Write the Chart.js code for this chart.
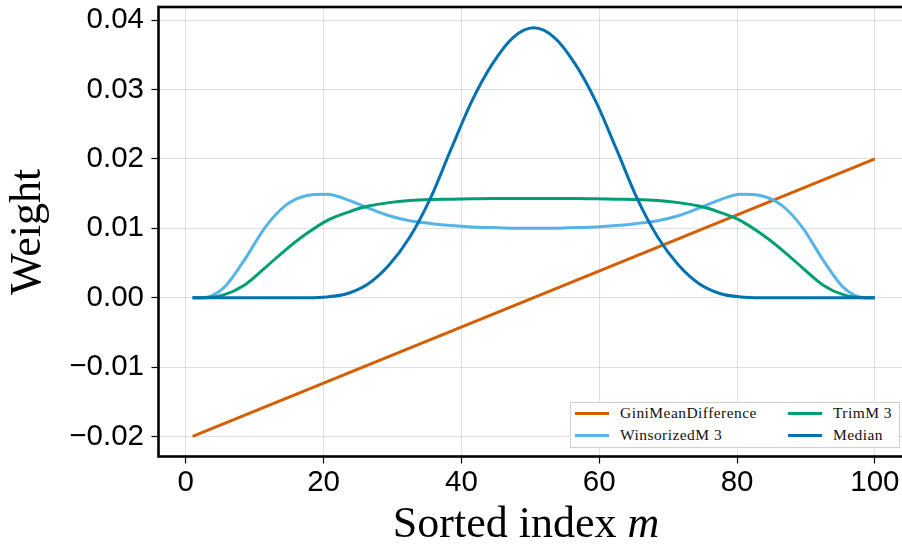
<!DOCTYPE html>
<html>
<head>
<meta charset="utf-8">
<script src="https://cdn.jsdelivr.net/npm/chart.js@4.4.1/dist/chart.umd.min.js"></script>
<style>
html, body { margin: 0; padding: 0; background: #fff; }
#wrap { position: relative; width: 902px; height: 545px; overflow: hidden; }
#chart { position: absolute; left: 0; top: 0; }
#legend {
    position: absolute; left: 570px; top: 402px; width: 330px; height: 46px;
    border: 1.5px solid #cfcfcf; background: #fff; box-sizing: border-box;
    font-family: 'Liberation Serif', serif; font-size: 15.5px; letter-spacing: 0.45px; color: #111;
}
.item { position: absolute; height: 20px; display: flex; align-items: center; white-space: nowrap; }
.swatch { width: 34px; height: 3px; margin-right: 11px; }
</style>
</head>
<body>
<div id="wrap">
    <canvas id="chart" width="912" height="545"></canvas>
    <div id="legend"></div>
</div>
<script>
let xs = [1, 2.5, 5.5, 8.5, 11.5, 14.5, 17.5, 20.5, 23.5, 26.5, 29.5, 32.5, 35.5, 38.5, 41.5, 44.5, 47.5, 50.5,
          53.5, 56.5, 59.5, 62.5, 65.5, 68.5, 71.5, 74.5, 77.5, 80.5, 83.5, 86.5, 89.5, 92.5, 95.5, 98.5, 100];

let winsorized = [0, 0, 0.0014, 0.0054, 0.0101, 0.0133, 0.0147, 0.0149, 0.0141, 0.0129, 0.0118, 0.0111,
                  0.0107, 0.0104, 0.0102, 0.0101, 0.0100, 0.0100,
                  0.0100, 0.0101, 0.0102, 0.0104, 0.0107, 0.0111, 0.0118, 0.0129, 0.0141, 0.0149, 0.0147,
                  0.0133, 0.0101, 0.0054, 0.0014, 0, 0];

let trimmed = [0, 0, 0.0004, 0.0018, 0.0043, 0.0069, 0.0092, 0.0111, 0.0123, 0.0132, 0.0137, 0.0140,
               0.01415, 0.0142, 0.01425, 0.0143, 0.0143, 0.0143,
               0.0143, 0.0143, 0.01425, 0.0142, 0.01415, 0.0140, 0.0137, 0.0132, 0.0123, 0.0111, 0.0092,
               0.0069, 0.0043, 0.0018, 0.0004, 0, 0];

let median = [0, 0, 0, 0, 0, 0, 0, 0.0001, 0.0006, 0.0020, 0.0047, 0.0087,
              0.0143, 0.0214, 0.0283, 0.0337, 0.0375, 0.0389,
              0.0375, 0.0337, 0.0283, 0.0214, 0.0143, 0.0087, 0.0047, 0.0020, 0.0006, 0.0001, 0,
              0, 0, 0, 0, 0, 0];

let giniX = [1, 100];
let giniY = [-0.02, 0.02];

let xTicks = [0, 20, 40, 60, 80, 100];
let yTicks = [-0.02, -0.01, 0, 0.01, 0.02, 0.03, 0.04];

let names = ['GiniMeanDifference', 'WinsorizedM 3', 'TrimM 3', 'Median'];
let colors = ['#D55E00', '#56B4E9', '#009E73', '#0072B2'];


function points(xv, yv) {
    return xv.map((x, i) => ({ x: x, y: yv[i] }));
}

let seriesData = [points(giniX, giniY), points(xs, winsorized), points(xs, trimmed), points(xs, median)];

let datasets = names.map((name, i) => ({
    label: name,
    data: seriesData[i],
    borderColor: colors[i],
    borderWidth: 3,
    fill: false,
    pointRadius: 0,
    cubicInterpolationMode: 'monotone',
    order: names.length - i  // later series drawn on top
}));

// black box round the plot area
const frame = {
    id: 'frame',
    afterDraw(chart) {
        let ctx = chart.ctx, a = chart.chartArea;
        ctx.save();
        ctx.strokeStyle = '#000';
        ctx.lineWidth = 2.6;
        ctx.strokeRect(a.left, a.top, a.right - a.left, a.bottom - a.top);
        ctx.restore();
    }
};

// x title with an italic m
const xTitle = {
    id: 'xTitle',
    afterDraw(chart) {
        let ctx = chart.ctx;
        ctx.save();
        ctx.fillStyle = '#000';
        ctx.textBaseline = 'alphabetic';
        ctx.font = '44px "Liberation Serif"';
        let a = 'Sorted index ';
        let wa = ctx.measureText(a).width;
        ctx.font = 'italic 44px "Liberation Serif"';
        let wb = ctx.measureText('m').width;
        let x0 = 526 - (wa + wb) / 2;
        ctx.font = '44px "Liberation Serif"';
        ctx.fillText(a, x0, 537);
        ctx.font = 'italic 44px "Liberation Serif"';
        ctx.fillText('m', x0 + wa, 537);
        ctx.restore();
    }
};

function noPad(s) {
    s.paddingTop = 0;
    s.paddingBottom = 0;
    s.paddingLeft = 0;
    s.paddingRight = 0;
}

let tickFont = { family: 'Liberation Sans', size: 29.5 };
let gridOpts = { color: 'rgba(0,0,0,0.12)', lineWidth: 1, tickColor: '#000', tickLength: 7, tickWidth: 1.2 };

let chart = new Chart(document.getElementById('chart').getContext('2d'), {
    type: 'line',
    data: { datasets: datasets },
    options: {
        responsive: false,
        animation: false,
        devicePixelRatio: 1,
        layout: { padding: { left: 0, top: 7, right: 3, bottom: 0 } },
        plugins: { legend: { display: false }, tooltip: { enabled: false } },
        scales: {
            x: {
                type: 'linear',
                min: -3.95,
                max: 104.95,
                afterFit: s => { s.height = 88.5; noPad(s); },
                afterBuildTicks: s => { s.ticks = xTicks.map(v => ({ value: v })); },
                grid: gridOpts,
                border: { display: false },
                ticks: { font: tickFont, color: '#000', padding: 2, maxRotation: 0,
                         callback: v => String(v) }
            },
            y: {
                type: 'linear',
                min: -0.0229,
                max: 0.0419,
                afterFit: s => { s.width = 158.5; noPad(s); },
                afterBuildTicks: s => { s.ticks = yTicks.map(v => ({ value: v })); },
                grid: gridOpts,
                border: { display: false },
                ticks: { font: tickFont, color: '#000', padding: 7.5,
                         callback: v => (v < -1e-9 ? '\u2212' : '') + Math.abs(v).toFixed(2) },
                title: { display: true, text: 'Weight', color: '#000',
                         font: { family: 'Liberation Serif', size: 44, lineHeight: 1 },
                         padding: { top: 6, bottom: 0 } }
            }
        }
    },
    plugins: [frame, xTitle]
});

// legend, filled column by column like the original
let legend = document.getElementById('legend');
names.forEach((name, i) => {
    let col = Math.floor(i / 2), row = i % 2;
    let item = document.createElement('div');
    item.className = 'item';
    item.style.left = (col === 0 ? 4 : 217) + 'px';
    item.style.top = (row === 0 ? 0 : 22) + 'px';
    let sw = document.createElement('span');
    sw.className = 'swatch';
    sw.style.background = colors[i];
    let label = document.createElement('span');
    label.textContent = name;
    item.appendChild(sw);
    item.appendChild(label);
    legend.appendChild(item);
});
</script>
</body>
</html>
